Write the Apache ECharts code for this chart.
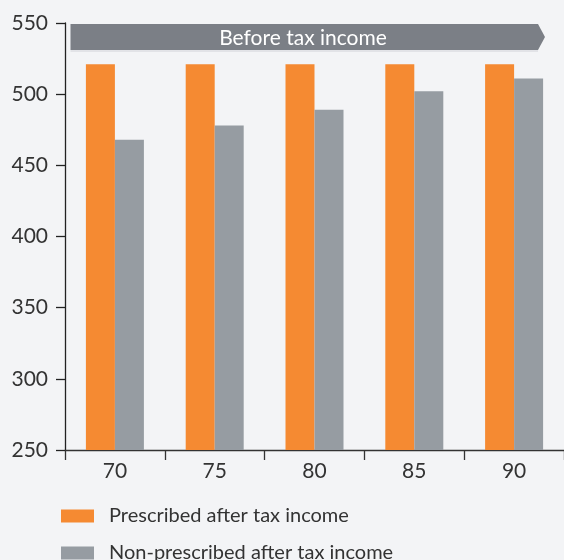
<!DOCTYPE html>
<html>
<head>
<meta charset="utf-8">
<script src="https://cdn.jsdelivr.net/npm/echarts@6/dist/echarts.min.js"></script>
<style>
html,body{margin:0;padding:0;background:#f3f4f6;}
#main{width:564px;height:560px;}
</style>
</head>
<body>
<div id="main"></div>
<script>
const categories = ['70', '75', '80', '85', '90'];
const prescribed = [521, 521, 521, 521, 521];
const nonPrescribed = [468, 478, 489, 502, 511];
const seriesNames = ['Prescribed after tax income', 'Non-prescribed after tax income'];
const bannerText = 'Before tax income';
const yMin = 250, yMax = 550, yStep = 50;

const FONT = 'Lato';
const legendBase = {
  orient: 'vertical',
  left: 61,
  itemWidth: 33,
  itemHeight: 13,
  icon: 'rect',
  padding: 0,
  textStyle: {fontFamily: FONT, fontSize: 20, color: '#333', padding: [0, 0, 0, 10]}
};
const chart = echarts.init(document.getElementById('main'), null, {renderer: 'canvas'});
chart.setOption({
  backgroundColor: '#f3f4f6',
  animation: false,
  textStyle: {fontFamily: FONT},
  grid: {left: 65, right: -6, top: 23, bottom: 110, containLabel: false},
  legend: [
    Object.assign({}, legendBase, {top: 506, data: [seriesNames[0]]}),
    Object.assign({}, legendBase, {top: 543, data: [seriesNames[1]]})
  ],
  xAxis: {
    type: 'category',
    data: categories,
    axisLine: {lineStyle: {color: '#333', width: 1.3}},
    axisTick: {show: true, length: 10, lineStyle: {color: '#333', width: 1.3}},
    axisLabel: {fontFamily: FONT, fontSize: 21, color: '#333', margin: 11}
  },
  yAxis: {
    type: 'value',
    min: yMin, max: yMax, interval: yStep,
    axisLine: {show: true, lineStyle: {color: '#222', width: 1.3}},
    axisTick: {show: true, length: 9, lineStyle: {color: '#222', width: 1.3}},
    splitLine: {show: false},
    axisLabel: {fontFamily: FONT, fontSize: 21, color: '#333', margin: 17}
  },
  series: [
    {name: seriesNames[0], type: 'bar', data: prescribed, barWidth: 29, barGap: '0%',
     itemStyle: {color: '#f58a32'}},
    {name: seriesNames[1], type: 'bar', data: nonPrescribed, barWidth: 29,
     itemStyle: {color: '#969ca2'}}
  ],
  graphic: [
    {type: 'polygon', shape: {points: [[70.5, 24], [538, 24], [545, 37], [538, 50], [70.5, 50]]},
     style: {fill: '#7b7f86'}, z: 10},
    {type: 'line', shape: {x1: 70.5, y1: 51, x2: 538, y2: 51}, style: {stroke: '#dcdee2', lineWidth: 1.5}, z: 10},
    {type: 'text', x: 303, y: 38, z: 11,
     style: {text: bannerText, fill: '#ffffff', font: '21px ' + FONT, textAlign: 'center', textVerticalAlign: 'middle'}}
  ]
});
</script>
</body>
</html>
